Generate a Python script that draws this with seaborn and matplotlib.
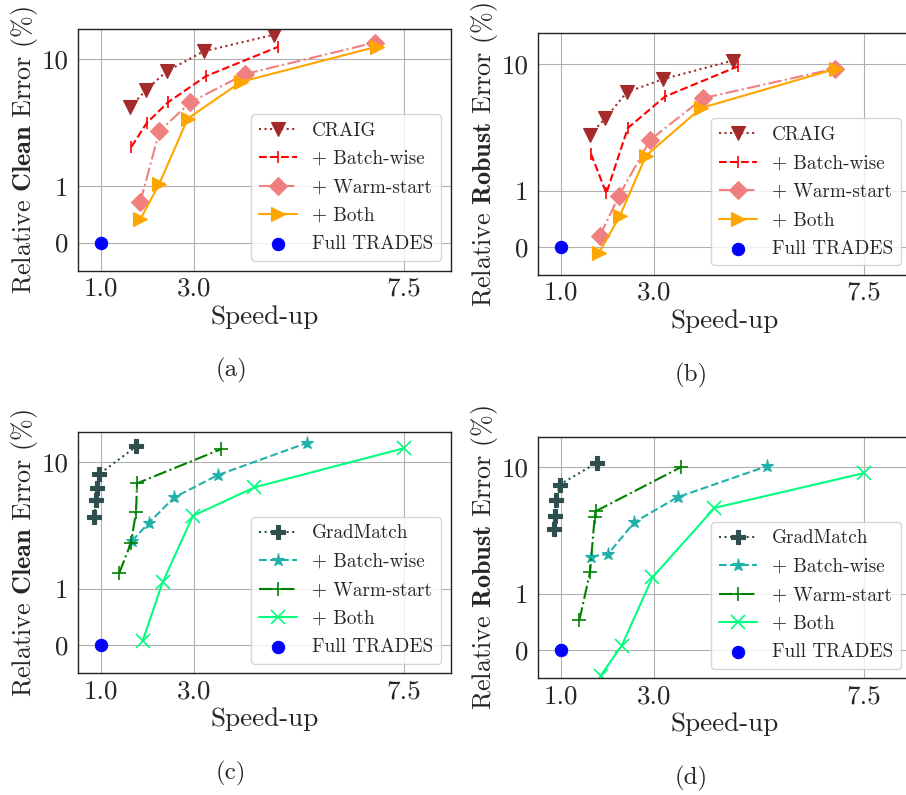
import matplotlib
matplotlib.use("Agg")
import matplotlib.pyplot as plt
import seaborn as sns
from matplotlib.ticker import NullLocator

sns.set_style("whitegrid")
plt.rcParams['font.family'] = ['cmr10', 'DejaVu Serif']
plt.rcParams['mathtext.fontset'] = 'cm'
plt.rcParams['axes.edgecolor'] = '#222222'
plt.rcParams['axes.linewidth'] = 1.0
plt.rcParams['grid.color'] = '#b0b0b0'
plt.rcParams['grid.linewidth'] = 0.8
plt.rcParams['axes.unicode_minus'] = False

# --------------------------------------------
# DATA (speed-up, relative error %)
# --------------------------------------------
# (a) CRAIG, clean error
a_craig_x = [1.62, 1.96, 2.41, 3.20, 4.71]
a_craig_y = [4.18, 5.73, 8.09, 11.6, 15.7]
a_batch_x = [1.65, 1.98, 2.43, 3.25, 4.80]
a_batch_y = [2.05, 3.16, 4.58, 7.39, 12.6]
a_warm_x = [1.84, 2.25, 2.91, 4.08, 6.87]
a_warm_y = [0.72, 2.72, 4.58, 7.66, 13.6]
a_both_x = [1.84, 2.25, 2.86, 4.00, 6.91]
a_both_y = [0.41, 1.05, 3.42, 6.66, 12.6]

# (b) CRAIG, robust error
b_craig_x = [1.62, 1.95, 2.41, 3.19, 4.68]
b_craig_y = [2.75, 3.72, 5.97, 7.57, 10.6]
b_batch_x = [1.64, 1.97, 2.43, 3.23, 4.79]
b_batch_y = [1.95, 0.95, 3.11, 5.52, 9.53]
b_warm_x = [1.83, 2.24, 2.91, 4.05, 6.87]
b_warm_y = [0.195, 0.905, 2.51, 5.36, 9.14]
b_both_x = [1.81, 2.26, 2.82, 4.00, 6.90]
b_both_y = [-0.11, 0.55, 1.88, 4.47, 9.14]

# (c) GradMatch, clean error
c_gm_x = [0.857, 0.885, 0.907, 0.964, 1.75]
c_gm_y = [3.71, 5.02, 6.29, 8.08, 13.3]
c_batch_x = [1.66, 2.03, 2.57, 3.51, 5.42]
c_batch_y = [2.39, 3.34, 5.28, 7.93, 14.2]
c_warm_x = [1.39, 1.64, 1.75, 1.77, 3.58]
c_warm_y = [1.34, 2.30, 4.06, 6.81, 12.7]
c_both_x = [1.89, 2.32, 2.97, 4.29, 7.50]
c_both_y = [0.076, 1.13, 3.77, 6.33, 12.9]

# (d) GradMatch, robust error
d_gm_x = [0.85, 0.878, 0.885, 0.971, 1.76]
d_gm_y = [3.26, 4.15, 5.52, 7.30, 10.8]
d_batch_x = [1.65, 2.01, 2.57, 3.50, 5.42]
d_batch_y = [1.97, 2.07, 3.68, 5.80, 10.2]
d_warm_x = [1.39, 1.62, 1.72, 1.74, 3.57]
d_warm_y = [0.53, 1.48, 4.08, 4.49, 10.0]
d_both_x = [1.85, 2.30, 2.96, 4.29, 7.49]
d_both_y = [-0.45, 0.083, 1.35, 4.77, 8.97]

full_x = [1.0]
full_y = [0.0]

craig_labels = ["CRAIG", "+ Batch-wise", "+ Warm-start", "+ Both"]
gm_labels = ["GradMatch", "+ Batch-wise", "+ Warm-start", "+ Both"]
xticks = [1.0, 3.0, 7.5]
xticklabels = ["1.0", "3.0", "7.5"]
yticks = [0, 1, 10]
yticklabels = ["0", "1", "10"]

craig_styles = [("brown", ":", "v"), ("red", "--", "|"),
                ("lightcoral", "-.", "D"), ("orange", "-", ">")]
gm_styles = [("darkslategray", ":", "P"), ("lightseagreen", "--", "*"),
             ("green", "-.", "+"), ("springgreen", "-", "x")]

W, H = 906, 795
fig = plt.figure(figsize=(W / 100, H / 100), dpi=100)


def px_axes(left, top, width, height):
    return fig.add_axes([left / W, 1 - (top + height) / H, width / W, height / H])


def draw_panel(ax, series, labels, styles, ylabel):
    for (x, y), lab, (col, ls, mk) in zip(series, labels, styles):
        ms = 9.5
        if mk == "|":
            ms = 8
        sns.lineplot(x=x, y=y, ax=ax, sort=False, color=col, linestyle=ls,
                     marker=mk, markersize=ms, linewidth=1.5, label=lab,
                     markeredgecolor=col, markeredgewidth=1.2 if mk in "|+x" else 0.8)
    sns.scatterplot(x=full_x, y=full_y, ax=ax, color="blue", s=80,
                    edgecolor="blue", label="Full TRADES", zorder=3)
    ax.set_yscale("symlog", linthresh=1, linscale=0.4)
    ax.set_xlim(0.51, 8.5)
    ax.set_ylim(-0.5, 17.4)
    ax.set_xticks(xticks)
    ax.set_xticklabels(xticklabels)
    ax.set_yticks(yticks)
    ax.set_yticklabels(yticklabels)
    ax.yaxis.set_minor_locator(NullLocator())
    ax.tick_params(axis="y", labelsize=19.5, pad=3.5)
    ax.tick_params(axis="x", labelsize=19.5, pad=1)
    ax.set_xlabel("Speed-up", fontsize=19.5, labelpad=3)
    ax.set_ylabel(ylabel, fontsize=18.8, labelpad=1)
    ax.legend(loc="lower right", fontsize=13.8, handlelength=2.0,
              borderaxespad=0.5, labelspacing=0.55)
    for sp in ax.spines.values():
        sp.set_visible(True)
        sp.set_color("#222222")


clean_lab = r"Relative $\mathbf{Clean}$ Error (%)"
robust_lab = r"Relative $\mathbf{Robust}$ Error (%)"

ax_a = px_axes(78.3, 29, 372.4, 241.7)
draw_panel(ax_a, [(a_craig_x, a_craig_y), (a_batch_x, a_batch_y),
                  (a_warm_x, a_warm_y), (a_both_x, a_both_y)],
           craig_labels, craig_styles, clean_lab)

ax_b = px_axes(538.3, 33.3, 372.4, 241.7)
draw_panel(ax_b, [(b_craig_x, b_craig_y), (b_batch_x, b_batch_y),
                  (b_warm_x, b_warm_y), (b_both_x, b_both_y)],
           craig_labels, craig_styles, robust_lab)

ax_c = px_axes(78.3, 431.7, 372.4, 241.7)
draw_panel(ax_c, [(c_gm_x, c_gm_y), (c_batch_x, c_batch_y),
                  (c_warm_x, c_warm_y), (c_both_x, c_both_y)],
           gm_labels, gm_styles, clean_lab)

ax_d = px_axes(538.3, 436.7, 372.4, 241.7)
draw_panel(ax_d, [(d_gm_x, d_gm_y), (d_batch_x, d_batch_y),
                  (d_warm_x, d_warm_y), (d_both_x, d_both_y)],
           gm_labels, gm_styles, robust_lab)

# sub-captions
for lab, cx, cy in [("(a)", 231, 370.7), ("(b)", 691, 375),
                    ("(c)", 231, 773.4), ("(d)", 691, 778.4)]:
    fig.text(cx / W, 1 - cy / H, lab, fontsize=18, ha="center", va="center")

fig.savefig("out.png", dpi=100)
